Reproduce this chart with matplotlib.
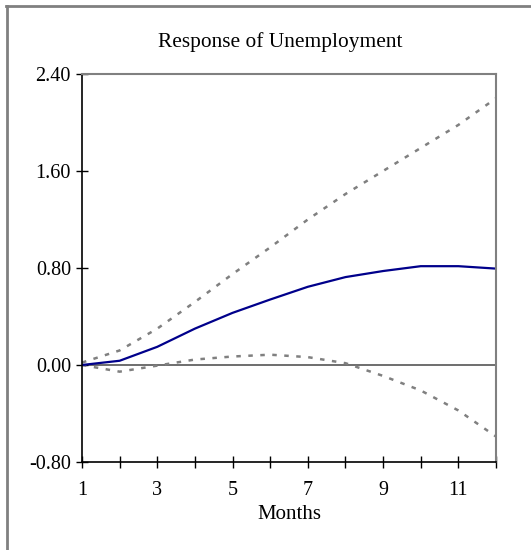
import numpy as np
import matplotlib.pyplot as plt
from matplotlib.lines import Line2D

# Impulse response of unemployment with error bands
months = np.arange(1, 13)
response = [0.00, 0.035, 0.15, 0.30, 0.43, 0.54, 0.645, 0.725, 0.775, 0.815, 0.815, 0.795]
upper = [0.02, 0.12, 0.30, 0.52, 0.75, 0.97, 1.20, 1.41, 1.60, 1.79, 1.98, 2.20]
lower = [0.00, -0.055, -0.005, 0.045, 0.07, 0.085, 0.065, 0.015, -0.09, -0.21, -0.375, -0.59]

y_ticks = [-0.80, 0.00, 0.80, 1.60, 2.40]
x_labels = [1, 3, 5, 7, 9, 11]

plt.rcParams['font.family'] = ['Liberation Serif', 'DejaVu Serif']

fig = plt.figure(figsize=(5.31, 5.5), dpi=100)
ax = fig.add_axes([82/531, 1-462/550, (496-82)/531, (462-74)/550])

ax.plot(months, upper, color='#808080', linewidth=1.8, linestyle=(0, (1.8, 3)))
ax.plot(months, lower, color='#808080', linewidth=1.8, linestyle=(0, (1.8, 3)))
ax.plot(months, response, color='#00008B', linewidth=1.6)
ax.axhline(0, color='#555555', linewidth=1.2, zorder=1)

ax.set_xlim(1, 12)
ax.set_ylim(-0.8, 2.4)
ax.set_yticks(y_ticks)
ax.set_yticklabels([f'{v:.2f}' for v in y_ticks])
ax.set_xticks(months)
ax.set_xticklabels([str(m) if m in x_labels else '' for m in months])
ax.tick_params(direction='inout', length=8, width=1, labelsize=14.5, color='black')
ax.tick_params(axis='x', pad=10)
ax.tick_params(axis='y', pad=4)
ax.set_xlabel('Months', fontsize=15, labelpad=3)

for side in ['top', 'right']:
    ax.spines[side].set_color('#808080')
    ax.spines[side].set_linewidth(1.5)
for side in ['left', 'bottom']:
    ax.spines[side].set_color('black')
    ax.spines[side].set_linewidth(1.2)

fig.text(280/531, 1-42/550, 'Response of Unemployment', ha='center', va='center', fontsize=15.4)

# frame around the panel (left and top edges)
fig.add_artist(Line2D([7/531, 7/531], [0, 1-6/550], color='#808080', linewidth=2, transform=fig.transFigure))
fig.add_artist(Line2D([6/531, 1], [1-6/550, 1-6/550], color='#808080', linewidth=2, transform=fig.transFigure))

fig.savefig('out.png', dpi=100)
